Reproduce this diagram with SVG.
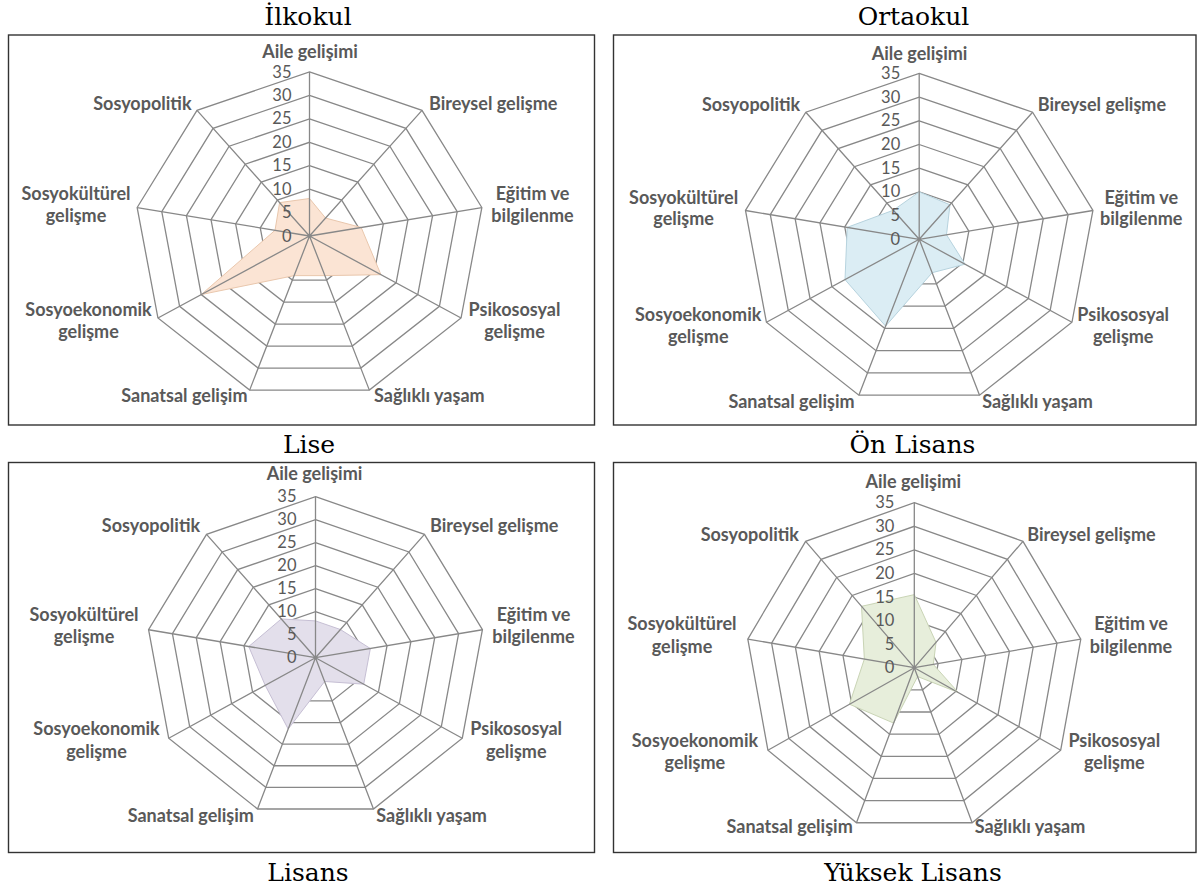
<svg xmlns="http://www.w3.org/2000/svg" xmlns:xlink="http://www.w3.org/1999/xlink" width="1200" height="890" viewBox="0 0 1200 890">
<style>
.title{font-family:"DejaVu Serif",serif;font-size:25px;fill:#000;text-anchor:middle}
.frame{fill:#fff;stroke:#333;stroke-width:1.4}
.grid polygon,.grid path{fill:none;stroke:#888;stroke-width:1.3;vector-effect:non-scaling-stroke}
.lbl{font-family:Lato,"Liberation Sans",sans-serif;font-weight:bold;font-size:18px;fill:#595959}
.num{font-family:Lato,"Liberation Sans",sans-serif;font-size:16.5px;fill:#595959;text-anchor:end}
.mid{text-anchor:middle}
.end{text-anchor:end}
.series{stroke-width:1;vector-effect:non-scaling-stroke}
</style>
<defs>
<g id="rings" class="grid">
<polygon points="0,-5 3.214,-3.830 4.924,-0.868 4.330,2.5 1.710,4.698 -1.710,4.698 -4.330,2.5 -4.924,-0.868 -3.214,-3.830"/>
<polygon points="0,-10 6.428,-7.660 9.848,-1.736 8.660,5 3.420,9.397 -3.420,9.397 -8.660,5 -9.848,-1.736 -6.428,-7.660"/>
<polygon points="0,-15 9.642,-11.491 14.772,-2.605 12.990,7.5 5.130,14.095 -5.130,14.095 -12.990,7.5 -14.772,-2.605 -9.642,-11.491"/>
<polygon points="0,-20 12.856,-15.321 19.696,-3.473 17.321,10 6.840,18.794 -6.840,18.794 -17.321,10 -19.696,-3.473 -12.856,-15.321"/>
<polygon points="0,-25 16.070,-19.151 24.620,-4.341 21.651,12.5 8.551,23.492 -8.551,23.492 -21.651,12.5 -24.620,-4.341 -16.070,-19.151"/>
<polygon points="0,-30 19.284,-22.981 29.544,-5.209 25.981,15 10.261,28.191 -10.261,28.191 -25.981,15 -29.544,-5.209 -19.284,-22.981"/>
<polygon points="0,-35 22.498,-26.812 34.468,-6.078 30.311,17.5 11.971,32.889 -11.971,32.889 -30.311,17.5 -34.468,-6.078 -22.498,-26.812"/>
</g>
<g id="spokes" class="grid">
<path d="M0,0L0,-35M0,0L22.498,-26.812M0,0L34.468,-6.078M0,0L30.311,17.5M0,0L11.971,32.889M0,0L-11.971,32.889M0,0L-30.311,17.5M0,0L-34.468,-6.078M0,0L-22.498,-26.812"/>
</g>
</defs>
<rect width="1200" height="890" fill="#fff"/>

<g id="titles">
<text class="title" x="308" y="25">İlkokul</text>
<text class="title" x="913.5" y="25">Ortaokul</text>
<text class="title" x="309" y="452.5">Lise</text>
<text class="title" x="912.5" y="452.5">Ön Lisans</text>
<text class="title" x="308" y="880.5">Lisans</text>
<text class="title" x="913" y="880.5">Yüksek Lisans</text>
</g>

<g id="frames">
<rect class="frame" x="8.5" y="35" width="586" height="390"/>
<rect class="frame" x="613.5" y="35" width="582.5" height="390"/>
<rect class="frame" x="8.5" y="462.5" width="586" height="390"/>
<rect class="frame" x="613.5" y="462.5" width="582.5" height="390"/>
</g>

<g id="chart-ilkokul" transform="translate(309.5,236)">
<g transform="scale(5,4.686)">
<use xlink:href="#rings"/>
<polygon class="series" fill="#fbe4d4" stroke="#e9c7ad" points="0,-8 3.214,-3.830 10.340,-1.823 14.289,8.25 3.078,8.457 -3.078,8.457 -21.651,12.5 -6.894,-1.215 -5.978,-7.124"/>
<use xlink:href="#spokes"/>
</g>
<g class="num">
<text x="-18" y="-158.5">35</text><text x="-18" y="-135">30</text><text x="-18" y="-111.6">25</text><text x="-18" y="-88.2">20</text><text x="-18" y="-64.8">15</text><text x="-18" y="-41.4">10</text><text x="-18" y="-17.9">5</text><text x="-18" y="5.5">0</text>
</g>
<g class="lbl">
<text class="mid" x="0.5" y="-178">Aile gelişimi</text>
<text x="119.5" y="-126">Bireysel gelişme</text>
<text class="mid" x="223" y="-36">Eğitim ve</text><text class="mid" x="223" y="-14.3">bilgilenme</text>
<text class="mid" x="205" y="80">Psikososyal</text><text class="mid" x="205" y="102">gelişme</text>
<text x="64.5" y="165.7">Sağlıklı yaşam</text>
<text class="end" x="-62" y="165.7">Sanatsal gelişim</text>
<text class="mid" x="-221" y="80">Sosyoekonomik</text><text class="mid" x="-221" y="102">gelişme</text>
<text class="mid" x="-233.5" y="-36">Sosyokültürel</text><text class="mid" x="-233.5" y="-14.3">gelişme</text>
<text class="end" x="-118" y="-126">Sosyopolitik</text>
</g>
</g>

<g id="chart-ortaokul" transform="translate(919.2,239.3)">
<g transform="scale(5.04,4.74)">
<use xlink:href="#rings"/>
<polygon class="series" fill="#dbedf4" stroke="#b7d3de" points="0,-10 6.107,-7.277 5.416,-0.955 9.093,5.25 2.565,7.048 -6.669,18.324 -14.722,8.5 -14.280,-2.517 -5.142,-6.128"/>
<use xlink:href="#spokes"/>
</g>
<g class="num">
<text x="-19" y="-160.4">35</text><text x="-19" y="-136.7">30</text><text x="-19" y="-113">25</text><text x="-19" y="-89.3">20</text><text x="-19" y="-65.6">15</text><text x="-19" y="-41.9">10</text><text x="-19" y="-18.2">5</text><text x="-19" y="5.5">0</text>
</g>
<g class="lbl">
<text class="mid" x="0.4" y="-179">Aile gelişimi</text>
<text x="118.5" y="-128">Bireysel gelişme</text>
<text class="mid" x="222" y="-35">Eğitim ve</text><text class="mid" x="222" y="-14.3">bilgilenme</text>
<text class="mid" x="204" y="82">Psikososyal</text><text class="mid" x="204" y="104">gelişme</text>
<text x="63" y="169">Sağlıklı yaşam</text>
<text class="end" x="-64.6" y="169">Sanatsal gelişim</text>
<text class="mid" x="-221" y="82">Sosyoekonomik</text><text class="mid" x="-221" y="104">gelişme</text>
<text class="mid" x="-235.6" y="-35">Sosyokültürel</text><text class="mid" x="-235.6" y="-14.3">gelişme</text>
<text class="end" x="-119" y="-128">Sosyopolitik</text>
</g>
</g>

<g id="chart-lise" transform="translate(315.5,657.7)">
<g transform="scale(4.843,4.6)">
<use xlink:href="#rings"/>
<polygon class="series" fill="#e3dfeb" stroke="#c6bfd4" points="0,-8 5.142,-6.128 11.325,-1.996 9.959,5.75 1.881,5.168 -5.643,15.505 -10.392,6 -13.787,-2.430 -7.071,-8.426"/>
<use xlink:href="#spokes"/>
</g>
<g class="num">
<text x="-19" y="-155.5">35</text><text x="-19" y="-132.5">30</text><text x="-19" y="-109.5">25</text><text x="-19" y="-86.5">20</text><text x="-19" y="-63.5">15</text><text x="-19" y="-40.5">10</text><text x="-19" y="-17.5">5</text><text x="-19" y="5.5">0</text>
</g>
<g class="lbl">
<text class="mid" x="-1" y="-177.7">Aile gelişimi</text>
<text x="114.6" y="-126">Bireysel gelişme</text>
<text class="mid" x="218" y="-37">Eğitim ve</text><text class="mid" x="218" y="-14.4">bilgilenme</text>
<text class="mid" x="200.7" y="77.3">Psikososyal</text><text class="mid" x="200.7" y="100.6">gelişme</text>
<text x="60.8" y="164">Sağlıklı yaşam</text>
<text class="end" x="-61.6" y="164">Sanatsal gelişim</text>
<text class="mid" x="-219" y="77.3">Sosyoekonomik</text><text class="mid" x="-219" y="100.6">gelişme</text>
<text class="mid" x="-231.5" y="-37">Sosyokültürel</text><text class="mid" x="-231.5" y="-14.4">gelişme</text>
<text class="end" x="-115.4" y="-126">Sosyopolitik</text>
</g>
</g>

<g id="chart-onlisans" transform="translate(914.3,667.7)">
<g transform="scale(4.83,4.714)">
<use xlink:href="#rings"/>
<polygon class="series" fill="#e7eedb" stroke="#c9d4b5" points="0,-15.5 4.5,-5.362 3.939,-0.694 9.093,5.25 0.684,1.879 -4.275,11.746 -13.423,7.75 -10.340,-1.823 -10.928,-13.022"/>
<use xlink:href="#spokes"/>
</g>
<g class="num">
<text x="-20" y="-159.5">35</text><text x="-20" y="-135.9">30</text><text x="-20" y="-112.4">25</text><text x="-20" y="-88.8">20</text><text x="-20" y="-65.2">15</text><text x="-20" y="-41.6">10</text><text x="-20" y="-18.1">5</text><text x="-20" y="5.5">0</text>
</g>
<g class="lbl">
<text class="mid" x="-1" y="-179.4">Aile gelişimi</text>
<text x="113" y="-126.7">Bireysel gelişme</text>
<text class="mid" x="216.7" y="-37.7">Eğitim ve</text><text class="mid" x="216.7" y="-15">bilgilenme</text>
<text class="mid" x="200" y="79">Psikososyal</text><text class="mid" x="200" y="101.6">gelişme</text>
<text x="60.4" y="165.6">Sağlıklı yaşam</text>
<text class="end" x="-61.6" y="165.6">Sanatsal gelişim</text>
<text class="mid" x="-219.4" y="79">Sosyoekonomik</text><text class="mid" x="-219.4" y="101.6">gelişme</text>
<text class="mid" x="-232.3" y="-37.7">Sosyokültürel</text><text class="mid" x="-232.3" y="-15">gelişme</text>
<text class="end" x="-115.4" y="-126.7">Sosyopolitik</text>
</g>
</g>
</svg>
